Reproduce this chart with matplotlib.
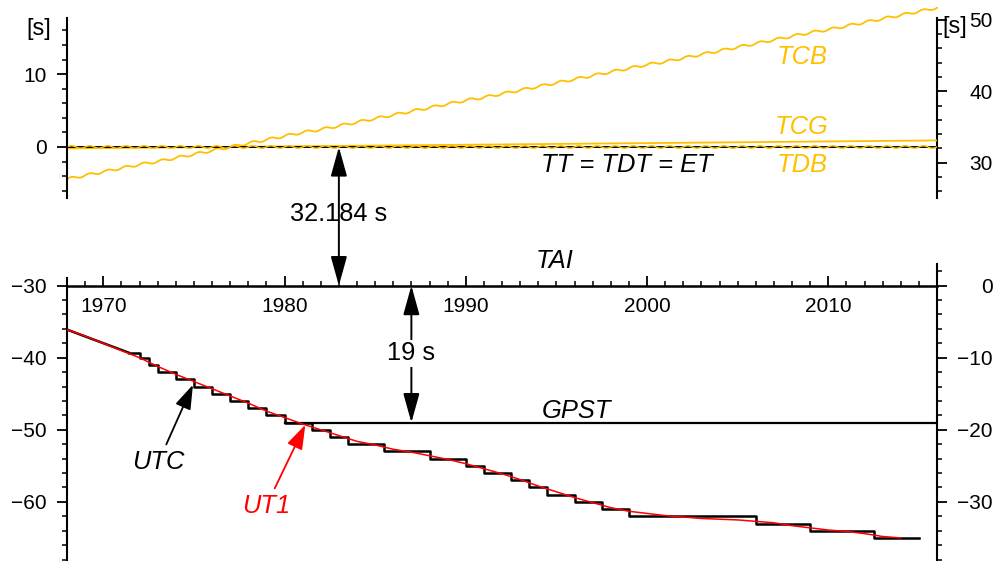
import matplotlib.pyplot as plt
import numpy as np
from matplotlib.ticker import MultipleLocator

plt.rcParams['font.family'] = ['Liberation Sans', 'DejaVu Sans']

GOLD = '#FFC000'

# top panel: offset from TT in seconds
tcb_years = list(range(1968, 2017))
tcb_trend = [-4.4, -3.9, -3.4, -2.9, -2.4, -2.0, -1.5, -1.0, -0.5, 0.0,
             0.5, 1.0, 1.5, 2.0, 2.4, 2.9, 3.4, 3.9, 4.4, 4.9,
             5.4, 5.9, 6.4, 6.8, 7.3, 7.8, 8.3, 8.8, 9.3, 9.8,
             10.3, 10.8, 11.3, 11.7, 12.2, 12.7, 13.2, 13.7, 14.2, 14.7,
             15.2, 15.7, 16.1, 16.6, 17.1, 17.6, 18.1, 18.6, 19.1]
# yearly wobble (exaggerated), sampled every 1/8 year
annual_wiggle = [0.0, 0.12, 0.17, 0.12, 0.0, -0.12, -0.17, -0.12]
tcg_years = [1968, 2016]
tcg_vals = [-0.2, 0.9]

# bottom panel: offset from TAI in seconds
utc_drift_years = [1968.0, 1971.4]
utc_drift_vals = [-6.1, -9.3]
leap_years = [1971.4, 1972.0, 1972.5, 1973.0, 1974.0, 1975.0, 1976.0, 1977.0,
              1978.0, 1979.0, 1980.0, 1981.5, 1982.5, 1983.5, 1985.5, 1988.0,
              1990.0, 1991.0, 1992.5, 1993.5, 1994.5, 1996.0, 1997.5, 1999.0,
              2006.0, 2009.0, 2012.5, 2015.0]
leap_vals = [-9.3, -10, -11, -12, -13, -14, -15, -16,
             -17, -18, -19, -20, -21, -22, -23, -24,
             -25, -26, -27, -28, -29, -30, -31, -32,
             -33, -34, -35, -35]
ut1_years = list(range(1968, 2015))
ut1_vals = [-6.1, -7.0, -8.0, -9.0, -10.0, -11.2, -12.3, -13.3, -14.3, -15.3,
            -16.3, -17.4, -18.3, -19.2, -20.0, -20.8, -21.6, -22.1, -22.7, -23.1,
            -23.6, -24.1, -24.7, -25.4, -26.1, -26.9, -27.8, -28.6, -29.4, -30.1,
            -30.8, -31.3, -31.6, -31.9, -32.1, -32.3, -32.4, -32.5, -32.7, -32.9,
            -33.3, -33.6, -33.9, -34.1, -34.4, -34.8, -35.0]
gpst_years = [1980.0, 2016.0]
gpst_vals = [-19, -19]

W, H = 995, 561
fig = plt.figure(figsize=(W / 100, H / 100), dpi=100)
ax_t = fig.add_axes([67 / W, (H - 198) / H, 870 / W, 180 / H])
ax_b = fig.add_axes([67 / W, 0, 870 / W, 297 / H])

tick_kw = dict(labelsize=15, width=1.3, colors='black')
MAJ, MIN = 7, 3.5

# ---------- top panel ----------
t = np.arange(1968, 2016.001, 1 / 8)
wig = np.append(np.tile(annual_wiggle, 48), annual_wiggle[0])
tcb = np.interp(t, tcb_years, tcb_trend) + wig
ax_t.plot(t, tcb, color=GOLD, lw=1.3, clip_on=False)
ax_t.plot(tcg_years, tcg_vals, color=GOLD, lw=1.3)
ax_t.plot([1968, 2016], [0, 0], color='black', lw=1.4)
ax_t.plot(t, wig, color=GOLD, lw=1.1)

ax_t.set_xlim(1968, 2016)
ax_t.set_ylim(-7, 17.7)
for s in ['top', 'bottom', 'right']:
    ax_t.spines[s].set_visible(False)
ax_t.spines['left'].set_linewidth(1.5)
ax_t.set_xticks([])
ax_t.set_yticks([0, 10])
ax_t.yaxis.set_minor_locator(MultipleLocator(2))
ax_t.tick_params(axis='y', which='major', length=MAJ, pad=7.4, **tick_kw)
ax_t.tick_params(axis='y', which='minor', length=MIN, width=1.1)

sec_t = ax_t.secondary_yaxis('right', functions=(lambda v: 1.02 * v + 32.2,
                                                  lambda v: (v - 32.2) / 1.02))
sec_t.spines['right'].set_linewidth(1.5)
sec_t.set_yticks([30, 40, 50])
sec_t.yaxis.set_minor_locator(MultipleLocator(2))
sec_t.tick_params(axis='y', which='major', length=MAJ, pad=33, **tick_kw)
sec_t.tick_params(axis='y', which='minor', length=MIN, width=1.1)
for lab in sec_t.get_yticklabels():
    lab.set_horizontalalignment('right')

lab_kw = dict(fontsize=18.4, style='italic', ha='center', va='baseline')
ax_t.text(2008.55, 11.4, 'TCB', color=GOLD, **lab_kw)
ax_t.text(2008.55, 1.8, 'TCG', color=GOLD, **lab_kw)
ax_t.text(2008.55, -3.4, 'TDB', color=GOLD, **lab_kw)
ax_t.text(1998.9, -3.4, 'TT = TDT = ET', color='black', **lab_kw)

# ---------- bottom panel ----------
ax_b.plot(gpst_years, gpst_vals, color='black', lw=1.6)
ax_b.plot(utc_drift_years, utc_drift_vals, color='black', lw=1.8)
ax_b.plot(leap_years, leap_vals, color='black', lw=1.8, drawstyle='steps-post')
ax_b.plot(ut1_years, ut1_vals, color='red', lw=1.1)

ax_b.set_xlim(1968, 2016)
ax_b.set_ylim(-38.2, 3.0)
ax_b.spines['top'].set_visible(False)
ax_b.spines['left'].set_visible(False)
ax_b.spines['bottom'].set_position(('data', 0))
ax_b.spines['bottom'].set_linewidth(1.8)
ax_b.spines['right'].set_linewidth(1.5)
ax_b.set_xticks([1970, 1980, 1990, 2000, 2010])
ax_b.xaxis.set_minor_locator(MultipleLocator(1))
ax_b.tick_params(axis='x', which='major', direction='in', length=MAJ, pad=8, **tick_kw)
ax_b.tick_params(axis='x', which='minor', direction='in', length=MIN, width=1.1)

ax_b.yaxis.tick_right()
ax_b.set_yticks([0, -10, -20, -30])
ax_b.set_yticks(np.arange(-38, 3, 2), minor=True)
ax_b.tick_params(axis='y', which='major', length=MAJ, pad=33, **tick_kw)
ax_b.tick_params(axis='y', which='minor', length=MIN, width=1.1)
for lab in ax_b.get_yticklabels():
    lab.set_horizontalalignment('right')

sec_b = ax_b.secondary_yaxis('left', functions=(lambda v: v - 30, lambda v: v + 30))
sec_b.spines['left'].set_linewidth(1.5)
sec_b.spines['left'].set_bounds(-68.2, -29)
sec_b.set_yticks([-30, -40, -50, -60])
sec_b.set_yticks(np.arange(-68, -29, 2), minor=True)
sec_b.tick_params(axis='y', which='major', length=MAJ, pad=7.4, **tick_kw)
sec_b.tick_params(axis='y', which='minor', length=MIN, width=1.1)

ax_b.text(1994.9, 2.5, 'TAI', color='black', **lab_kw)
ax_b.text(1996.1, -18.3, 'GPST', color='black', **lab_kw)

ax_b.annotate('UTC', xy=(1974.95, -13.75), xytext=(1973.05, -25.4),
              color='black', fontsize=18.4, style='italic', ha='center', va='baseline',
              arrowprops=dict(arrowstyle='-|>,head_length=0.75,head_width=0.25',
                              color='black', lw=1.3, mutation_scale=20, shrinkA=2, shrinkB=0))
ax_b.annotate('UT1', xy=(1981.15, -19.3), xytext=(1979.0, -31.5),
              color='red', fontsize=18.4, style='italic', ha='center', va='baseline',
              arrowprops=dict(arrowstyle='-|>,head_length=0.75,head_width=0.25',
                              color='red', lw=1.3, mutation_scale=20, shrinkA=2, shrinkB=0))

# offset arrows between scales
dbl = dict(arrowstyle='<|-|>,head_length=0.9,head_width=0.25', color='black',
           lw=1.4, mutation_scale=20, shrinkA=0, shrinkB=0)
ax_b.annotate('', xy=(1983, 0), xycoords=ax_b.transData,
              xytext=(1983, 0), textcoords=ax_t.transData,
              arrowprops=dbl, annotation_clip=False)
ax_b.annotate('', xy=(1987, -19), xytext=(1987, 0), arrowprops=dbl)
ax_t.text(1983, -9.26, '32.184 s', fontsize=18.3, ha='center', va='center', clip_on=False,
          bbox=dict(facecolor='white', edgecolor='none', pad=1))
ax_b.text(1987, -9.4, '19 s', fontsize=18.3, ha='center', va='center',
          bbox=dict(facecolor='white', edgecolor='none', pad=1))

fig.text(39 / W, 1 - 29 / H, '[s]', fontsize=17, ha='center', va='center')
fig.text(955 / W, 1 - 27 / H, '[s]', fontsize=17, ha='center', va='center')

fig.savefig('out.png', dpi=100)
